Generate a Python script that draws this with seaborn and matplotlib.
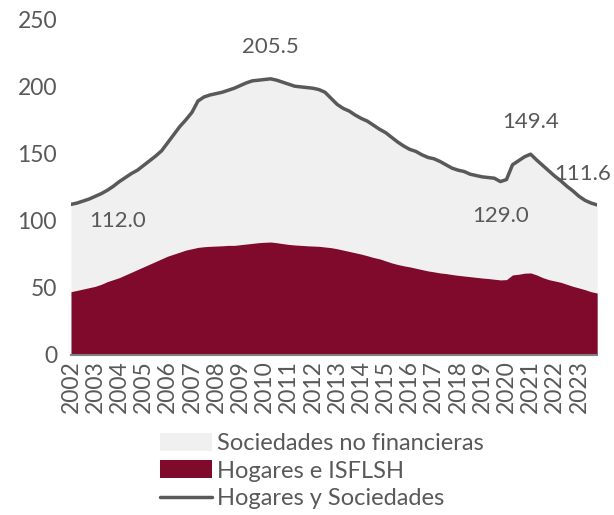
import numpy as np
import pandas as pd
import matplotlib.pyplot as plt
import seaborn as sns
from matplotlib.patches import Patch
from matplotlib.lines import Line2D

# Quarterly data, 2002Q1 - 2023Q4 (% of GDP)
years = list(range(2002, 2024))

total = [
    112.0, 113.0, 114.5, 116.0, 118.0, 120.0, 122.5, 125.5,
    129.0, 132.0, 135.0, 137.5, 141.0, 144.5, 148.0, 152.0,
    158.0, 164.0, 170.0, 175.0, 180.5, 189.0, 192.0, 193.5,
    194.5, 195.5, 197.0, 198.5, 200.5, 202.5, 204.0, 204.5,
    205.0, 205.5, 204.5, 203.0, 201.5, 200.0, 199.5, 199.0,
    198.5, 197.5, 195.5, 191.0, 186.5, 183.5, 181.5, 178.5,
    176.0, 174.0, 171.0, 168.0, 165.5, 162.0, 158.5, 155.5,
    153.0, 151.5, 149.0, 147.0, 146.0, 144.0, 141.5, 139.0,
    137.5, 136.5, 134.5, 133.5, 132.5, 132.0, 131.5, 129.0,
    130.5, 141.5, 144.5, 147.5, 149.4, 145.0, 141.0, 137.0,
    133.0, 129.5, 125.5, 122.0, 118.0, 115.0, 113.0, 111.6,
]

hogares = [
    47.0, 48.0, 49.0, 50.0, 51.0, 52.5, 54.5, 56.0,
    57.5, 59.5, 61.5, 63.5, 65.5, 67.5, 69.5, 71.5,
    73.5, 75.0, 76.5, 78.0, 79.0, 80.0, 80.5, 80.8,
    81.0, 81.2, 81.5, 81.5, 82.0, 82.5, 83.0, 83.5,
    83.8, 84.0, 83.5, 82.8, 82.2, 81.8, 81.5, 81.2,
    81.0, 80.8, 80.3, 79.8, 79.0, 78.0, 77.0, 76.0,
    75.0, 73.8, 72.5, 71.5, 70.0, 68.5, 67.3, 66.3,
    65.5, 64.5, 63.5, 62.5, 61.8, 61.0, 60.5, 59.8,
    59.2, 58.7, 58.2, 57.7, 57.2, 56.8, 56.3, 55.8,
    56.0, 59.5, 60.0, 60.8, 61.0, 59.5, 57.5, 56.0,
    55.0, 54.0, 52.5, 51.0, 49.8, 48.5, 47.0, 46.0,
]

# labels for selected points: (quarter index, label y, text, ha)
etiquetas = [
    (33, 229.5, "205.5", "center"),
    (7.7, 99.5, "112.0", "center"),
    (76, 173.5, "149.4", "center"),
    (71, 103, "129.0", "center"),
    (89.3, 134.5, "111.6", "right"),
]

df = pd.DataFrame({"t": np.arange(len(total)), "total": total, "hogares": hogares})

ROJO = "#7f0a2b"
GRIS_CLARO = "#f0f0f0"
GRIS = "#595959"

sns.set_theme(style="white")
plt.rcParams["font.family"] = ["Lato", "DejaVu Sans"]

fig = plt.figure(figsize=(6.14, 5.15), dpi=100)
ax = fig.add_axes([0.1156, 0.311, 0.857, 0.652])

ax.fill_between(df["t"], df["hogares"], df["total"], color=GRIS_CLARO, lw=0)
ax.fill_between(df["t"], 0, df["hogares"], color=ROJO, lw=0)
sns.lineplot(data=df, x="t", y="total", color=GRIS, lw=2.5, ax=ax)

for x, y, txt, ha in etiquetas:
    ax.text(x, y, txt, ha=ha, va="center", fontsize=16, color=GRIS, clip_on=False)

ax.set_xlim(0, len(total) - 1)
ax.set_ylim(0, 250)
ax.set_yticks(range(0, 251, 50))
ax.set_xticks(np.arange(0, len(total), 4))
ax.set_xticklabels([str(y) for y in years], rotation=90)
ax.tick_params(axis="x", labelsize=16.5, colors=GRIS, length=0, pad=4)
ax.tick_params(axis="y", labelsize=16.5, colors=GRIS, length=0, pad=10)
ax.set_xlabel("")
ax.set_ylabel("")

for s in ["top", "right", "left"]:
    ax.spines[s].set_visible(False)
ax.spines["bottom"].set_color("#808080")
ax.spines["bottom"].set_linewidth(1.5)

handles = [
    Patch(facecolor=GRIS_CLARO, edgecolor="none", label="Sociedades no financieras"),
    Patch(facecolor=ROJO, edgecolor="none", label="Hogares e ISFLSH"),
    Line2D([0], [0], color=GRIS, lw=2.5, label="Hogares y Sociedades"),
]
leg = fig.legend(handles=handles, loc="upper left", bbox_to_anchor=(0.245, 0.178),
                 frameon=False, fontsize=17, handlelength=2.2, handleheight=0.8,
                 handletextpad=0.2, labelspacing=0.27, borderaxespad=0)
for t in leg.get_texts():
    t.set_color(GRIS)

fig.savefig("out.png", dpi=100)
